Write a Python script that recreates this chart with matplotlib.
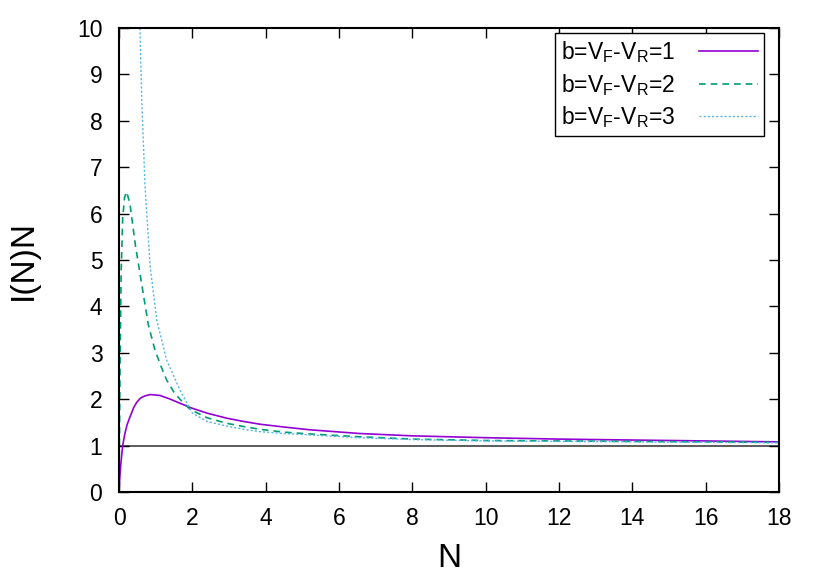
import numpy as np
import matplotlib
matplotlib.use("Agg")
import matplotlib.pyplot as plt

plt.rcParams['font.family'] = ['Liberation Sans', 'DejaVu Sans']
plt.rcParams['mathtext.fontset'] = 'custom'
plt.rcParams['mathtext.rm'] = 'Liberation Sans'
plt.rcParams['mathtext.it'] = 'Liberation Sans'

# b = 1 (solid purple)
n_b1 = [0, 0.02, 0.04, 0.06, 0.1, 0.16, 0.22, 0.3, 0.4, 0.48, 0.58, 0.7, 0.85, 1.0,
        1.12, 1.4, 1.7, 1.94, 2.4, 2.94, 3.4, 3.85, 4.5, 5.21, 6.57, 8.0, 10, 12, 14, 16, 18]
y_b1 = [0, 0.3, 0.52, 0.69, 1.0, 1.26, 1.45, 1.62, 1.82, 1.93, 2.02, 2.07, 2.1, 2.09,
        2.08, 2.0, 1.9, 1.82, 1.7, 1.59, 1.52, 1.46, 1.4, 1.34, 1.26, 1.21, 1.17, 1.14, 1.12, 1.10, 1.08]

# b = 2 (dashed green)
n_b2 = [0, 0.01, 0.03, 0.06, 0.1, 0.15, 0.21, 0.3, 0.45, 0.66, 0.8, 0.98, 1.15, 1.3,
        1.5, 1.66, 1.94, 2.4, 2.94, 3.4, 3.85, 4.5, 5.21, 6.57, 8.0, 10, 12, 14, 16, 18]
y_b2 = [0, 1.0, 3.0, 4.8, 5.9, 6.35, 6.47, 6.2, 5.3, 4.28, 3.6, 3.06, 2.7, 2.41,
        2.15, 2.0, 1.78, 1.6, 1.48, 1.41, 1.35, 1.29, 1.25, 1.19, 1.14, 1.11, 1.10, 1.09, 1.08, 1.07]

# b = 3 (dotted blue)
n_b3 = [0.52, 0.57, 0.62, 0.71, 0.85, 1.03, 1.3, 1.66, 2.0, 2.4, 2.94, 3.4, 3.85,
        4.5, 5.21, 6.57, 8.0, 10, 12, 14, 16, 18]
y_b3 = [11.5, 10.0, 8.45, 6.58, 4.86, 3.7, 2.84, 2.2, 1.7, 1.52, 1.42, 1.35, 1.30,
        1.26, 1.23, 1.17, 1.13, 1.10, 1.09, 1.08, 1.07, 1.06]

labels = [r'b=V$_\mathregular{F}$-V$_\mathregular{R}$=1',
          r'b=V$_\mathregular{F}$-V$_\mathregular{R}$=2',
          r'b=V$_\mathregular{F}$-V$_\mathregular{R}$=3']

fig = plt.figure(figsize=(8.3, 5.81), dpi=100)
ax = fig.add_axes([0.1434, 0.1532, 0.7952, 0.7986])

ax.axhline(1, color='#404040', lw=1.2, zorder=1)
ax.plot(n_b1, y_b1, color='#9400d3', lw=1.2, label=labels[0])
ax.plot(n_b2, y_b2, color='#009e73', lw=1.2, ls=(0, (4, 3)), label=labels[1])
ax.plot(n_b3, y_b3, color='#56b4e9', lw=1.0, ls=(0, (1.5, 1.5)), label=labels[2])

ax.set_xlim(0, 18)
ax.set_ylim(0, 10)
ax.set_xticks(np.arange(0, 19, 2))
ax.set_yticks(np.arange(0, 11, 1))
ax.tick_params(direction='in', length=7, width=1, top=True, right=True,
               labelsize=16.5)
ax.tick_params(axis='x', pad=11)
ax.tick_params(axis='y', pad=12)
for s in ax.spines.values():
    s.set_linewidth(1.5)

ax.set_xlabel('N', fontsize=24, va='center', ha='center')
ax.set_ylabel('I(N)N', fontsize=24, va='center', ha='center')
ax.xaxis.set_label_coords(0.5, -0.144)
ax.yaxis.set_label_coords(-0.145, 0.5)

leg = ax.legend(loc='upper right', bbox_to_anchor=(0.977, 0.989), fontsize=16.5,
                markerfirst=False, handlelength=2.6, fancybox=False,
                framealpha=1, edgecolor='black', borderpad=0.25,
                labelspacing=0.3, handletextpad=1.0, borderaxespad=0)
leg.get_frame().set_linewidth(1.0)

fig.savefig('out.png', dpi=100)
